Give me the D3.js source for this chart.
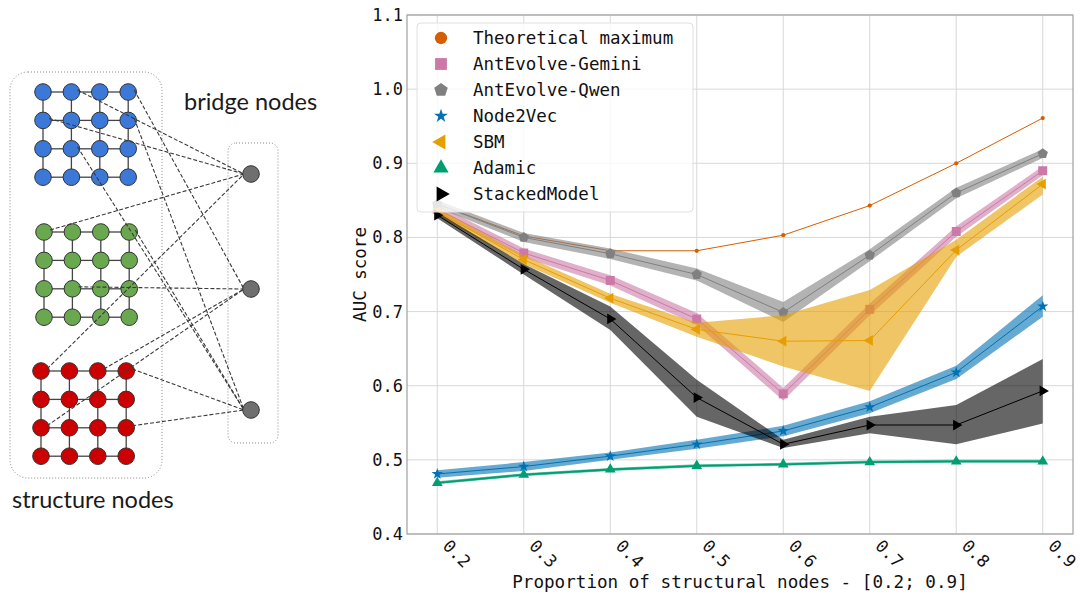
<!DOCTYPE html>
<html>
<head>
<meta charset="utf-8">
<script src="https://cdn.jsdelivr.net/npm/d3@7"></script>
<style>
  body { margin: 0; background: #fff; }
  svg { display: block; }
</style>
</head>
<body>
<div id="chart"></div>
<script>
// x values / tick labels
const proportions = [0.2, 0.3, 0.4, 0.5, 0.6, 0.7, 0.8, 0.9];
const xTickLabels = ["0.2", "0.3", "0.4", "0.5", "0.6", "0.7", "0.8", "0.9"];
const yTicks = [0.4, 0.5, 0.6, 0.7, 0.8, 0.9, 1.0, 1.1];

// series (mean + band low/high)
const theoreticalMax = [0.845, 0.802, 0.782, 0.782, 0.803, 0.843, 0.900, 0.961];

const geminiMean = [0.838, 0.779, 0.742, 0.690, 0.589, 0.703, 0.808, 0.890];
const geminiLow = [0.832, 0.773, 0.735, 0.682, 0.580, 0.695, 0.801, 0.884];
const geminiHigh = [0.844, 0.785, 0.749, 0.698, 0.597, 0.711, 0.815, 0.896];

const qwenMean = [0.845, 0.800, 0.778, 0.750, 0.699, 0.776, 0.860, 0.913];
const qwenLow = [0.840, 0.794, 0.771, 0.742, 0.686, 0.768, 0.853, 0.907];
const qwenHigh = [0.850, 0.806, 0.785, 0.758, 0.713, 0.784, 0.867, 0.919];

const node2vecMean = [0.481, 0.491, 0.505, 0.521, 0.539, 0.571, 0.618, 0.707];
const node2vecLow = [0.476, 0.485, 0.500, 0.515, 0.532, 0.563, 0.609, 0.693];
const node2vecHigh = [0.486, 0.497, 0.510, 0.527, 0.546, 0.579, 0.627, 0.722];

const sbmMean = [0.835, 0.770, 0.718, 0.676, 0.660, 0.661, 0.783, 0.872];
const sbmLow = [0.830, 0.764, 0.712, 0.666, 0.626, 0.593, 0.774, 0.858];
const sbmHigh = [0.840, 0.776, 0.724, 0.685, 0.695, 0.729, 0.797, 0.882];

const adamicMean = [0.469, 0.480, 0.487, 0.492, 0.494, 0.497, 0.498, 0.498];
const adamicLow = [0.467, 0.478, 0.485, 0.490, 0.492, 0.495, 0.496, 0.496];
const adamicHigh = [0.471, 0.482, 0.489, 0.494, 0.496, 0.499, 0.500, 0.500];

const stackedMean = [0.830, 0.757, 0.690, 0.584, 0.521, 0.547, 0.547, 0.593];
const stackedLow = [0.826, 0.750, 0.675, 0.558, 0.516, 0.536, 0.521, 0.549];
const stackedHigh = [0.834, 0.764, 0.707, 0.608, 0.527, 0.558, 0.574, 0.636];

const seriesNames = ["Theoretical maximum", "AntEvolve-Gemini", "AntEvolve-Qwen",
  "Node2Vec", "SBM", "Adamic", "StackedModel"];

const SERIES_COLORS = {
  "Theoretical maximum": "#d55e00",
  "AntEvolve-Gemini": "#cc79a7",
  "AntEvolve-Qwen": "#808080",
  "Node2Vec": "#0072b2",
  "SBM": "#e69f00",
  "Adamic": "#009e73",
  "StackedModel": "#000000",
};

const width = 1080;
const height = 594;
const MONO = "'DejaVu Sans Mono', monospace";

const svg = d3.select("#chart").append("svg")
  .attr("width", width)
  .attr("height", height);

// pentagon path for matplotlib "p" marker
const symbolPentagon = {
  draw(ctx, size) {
    const r = Math.sqrt(size / 2.378);
    for (let i = 0; i < 5; i++) {
      const a = -Math.PI / 2 + (i * 2 * Math.PI) / 5;
      const px = r * Math.cos(a), py = r * Math.sin(a);
      if (i === 0) ctx.moveTo(px, py); else ctx.lineTo(px, py);
    }
    ctx.closePath();
  },
};

const MARKERS = {
  "Theoretical maximum": { type: d3.symbolCircle, rot: 0, size: 14, legendSize: 120 },
  "AntEvolve-Gemini": { type: d3.symbolSquare, rot: 0, size: 80, legendSize: 140 },
  "AntEvolve-Qwen": { type: symbolPentagon, rot: 0, size: 70, legendSize: 120 },
  "Node2Vec": { type: d3.symbolStar, rot: 0, size: 40, legendSize: 60 },
  "SBM": { type: d3.symbolTriangle, rot: -90, size: 50, legendSize: 100 },
  "Adamic": { type: d3.symbolTriangle, rot: 0, size: 50, legendSize: 100 },
  "StackedModel": { type: d3.symbolTriangle, rot: 90, size: 50, legendSize: 100 },
};

/* ---------------- LEFT DIAGRAM ---------------- */
const diagram = svg.append("g");

const gridGroups = [
  { fill: "#3c78d8", x0: 43, y0: 92 },
  { fill: "#6aa84f", x0: 44, y0: 232 },
  { fill: "#cc0000", x0: 41, y0: 371 },
];
const step = 28.4;
const bridgeNodes = [{ x: 251, y: 174 }, { x: 251, y: 289 }, { x: 251, y: 410 }];

// [group, row, col, bridge]
const bridgeEdges = [
  [0, 0, 1, 0], [0, 1, 0, 0], [0, 0, 3, 1], [0, 1, 3, 2], [0, 2, 1, 2],
  [1, 0, 0, 0], [1, 0, 3, 2], [1, 2, 1, 1],
  [2, 0, 0, 0], [2, 0, 2, 1], [2, 2, 0, 1], [2, 0, 3, 2], [2, 2, 3, 2],
];

function nodePos(g, r, c) {
  const grp = gridGroups[g];
  return { x: grp.x0 + c * step, y: grp.y0 + r * step };
}

// dotted containers
diagram.append("rect")
  .attr("x", 10).attr("y", 72).attr("width", 152).attr("height", 406)
  .attr("rx", 18)
  .attr("fill", "none").attr("stroke", "#888")
  .attr("stroke-width", 1).attr("stroke-dasharray", "1,2");

diagram.append("rect")
  .attr("x", 228).attr("y", 143).attr("width", 50).attr("height", 300)
  .attr("rx", 8)
  .attr("fill", "none").attr("stroke", "#888")
  .attr("stroke-width", 1).attr("stroke-dasharray", "1,2");

// grid edges
gridGroups.forEach((grp, g) => {
  const eg = diagram.append("g").attr("stroke", "#444").attr("stroke-width", 1.3);
  for (let r = 0; r < 4; r++) {
    for (let c = 0; c < 4; c++) {
      const p = nodePos(g, r, c);
      if (c < 3) {
        const q = nodePos(g, r, c + 1);
        eg.append("line").attr("x1", p.x).attr("y1", p.y).attr("x2", q.x).attr("y2", q.y);
      }
      if (r < 3) {
        const q = nodePos(g, r + 1, c);
        eg.append("line").attr("x1", p.x).attr("y1", p.y).attr("x2", q.x).attr("y2", q.y);
      }
    }
  }
});

// grid nodes
gridGroups.forEach((grp, g) => {
  for (let r = 0; r < 4; r++) {
    for (let c = 0; c < 4; c++) {
      const p = nodePos(g, r, c);
      diagram.append("circle")
        .attr("cx", p.x).attr("cy", p.y).attr("r", 8.3)
        .attr("fill", grp.fill).attr("stroke", "#333").attr("stroke-width", 1);
    }
  }
});

// dashed bridge edges (drawn on top of nodes like the original)
bridgeEdges.forEach(([g, r, c, b]) => {
  const p = nodePos(g, r, c);
  const q = bridgeNodes[b];
  diagram.append("line")
    .attr("x1", p.x + 6).attr("y1", p.y - 2).attr("x2", q.x - 7).attr("y2", q.y)
    .attr("stroke", "#3a3a3a").attr("stroke-width", 1.1)
    .attr("stroke-dasharray", "4,2");
});

bridgeNodes.forEach((d) => {
  diagram.append("circle")
    .attr("cx", d.x).attr("cy", d.y).attr("r", 8.3)
    .attr("fill", "#6f6f6f").attr("stroke", "#333").attr("stroke-width", 1);
});

diagram.append("text")
  .attr("x", 184).attr("y", 110)
  .attr("font-family", "Lato, 'Open Sans', sans-serif")
  .attr("font-size", "23.5px").attr("fill", "#1a1a1a")
  .text("bridge nodes");

diagram.append("text")
  .attr("x", 12).attr("y", 508)
  .attr("font-family", "Lato, 'Open Sans', sans-serif")
  .attr("font-size", "23.5px").attr("fill", "#1a1a1a")
  .text("structure nodes");

/* ---------------- LINE CHART ---------------- */
const plot = { left: 407, right: 1073, top: 15, bottom: 534 };

const x = d3.scaleLinear().domain([0.165, 0.935]).range([plot.left, plot.right]);
const y = d3.scaleLinear().domain([0.4, 1.1]).range([plot.bottom, plot.top]);

// grid
const grid = svg.append("g").attr("stroke", "#d8d8d8").attr("stroke-width", 1);
grid.selectAll(".gx").data(proportions).enter().append("line")
  .attr("x1", (d) => x(d)).attr("x2", (d) => x(d))
  .attr("y1", plot.top).attr("y2", plot.bottom);
grid.selectAll(".gy").data(yTicks).enter().append("line")
  .attr("x1", plot.left).attr("x2", plot.right)
  .attr("y1", (d) => y(d)).attr("y2", (d) => y(d));

// spines
svg.append("rect")
  .attr("x", plot.left).attr("y", plot.top)
  .attr("width", plot.right - plot.left).attr("height", plot.bottom - plot.top)
  .attr("fill", "none").attr("stroke", "#a0a0a0").attr("stroke-width", 1.2);

// axes (ticks hidden, labels only)
const yAxis = svg.append("g")
  .attr("transform", `translate(${plot.left},0)`)
  .call(d3.axisLeft(y).tickValues(yTicks).tickFormat(d3.format(".1f")).tickSize(0).tickPadding(4));
yAxis.select(".domain").remove();
yAxis.selectAll("text")
  .attr("font-family", MONO).attr("font-size", "17px").attr("fill", "#111");

const xAxis = svg.append("g")
  .attr("transform", `translate(0,${plot.bottom})`)
  .call(d3.axisBottom(x).tickValues(proportions).tickFormat((d, i) => xTickLabels[i]).tickSize(0));
xAxis.select(".domain").remove();
xAxis.selectAll("text")
  .attr("font-family", MONO).attr("font-size", "17px").attr("fill", "#111")
  .attr("text-anchor", "start")
  .attr("dy", null)
  .attr("y", 0)
  .attr("transform", "translate(4,13) rotate(45)");

svg.append("text")
  .attr("transform", `translate(366,${(plot.top + plot.bottom) / 2}) rotate(-90)`)
  .attr("text-anchor", "middle")
  .attr("font-family", MONO).attr("font-size", "17.5px").attr("fill", "#111")
  .text("AUC score");

svg.append("text")
  .attr("x", 740).attr("y", 588)
  .attr("text-anchor", "middle")
  .attr("font-family", MONO).attr("font-size", "17.6px").attr("fill", "#111")
  .text("Proportion of structural nodes - [0.2; 0.9]");

// series definitions
const series = [
  { name: "Theoretical maximum", mean: theoreticalMax, low: null, high: null, lw: 1 },
  { name: "AntEvolve-Gemini", mean: geminiMean, low: geminiLow, high: geminiHigh, lw: 1 },
  { name: "AntEvolve-Qwen", mean: qwenMean, low: qwenLow, high: qwenHigh, lw: 1 },
  { name: "Node2Vec", mean: node2vecMean, low: node2vecLow, high: node2vecHigh, lw: 1 },
  { name: "SBM", mean: sbmMean, low: sbmLow, high: sbmHigh, lw: 1 },
  { name: "Adamic", mean: adamicMean, low: adamicLow, high: adamicHigh, lw: 1.8 },
  { name: "StackedModel", mean: stackedMean, low: stackedLow, high: stackedHigh, lw: 1 },
];

const area = d3.area()
  .x((d) => x(d.x))
  .y0((d) => y(d.lo))
  .y1((d) => y(d.hi));

const line = d3.line()
  .x((d) => x(d.x))
  .y((d) => y(d.v));

const chartG = svg.append("g");

series.forEach((s) => {
  const color = SERIES_COLORS[s.name];
  const mk = MARKERS[s.name];
  const g = chartG.append("g");

  if (s.low) {
    const bandData = proportions.map((p, i) => ({ x: p, lo: s.low[i], hi: s.high[i] }));
    g.append("path")
      .datum(bandData)
      .attr("d", area)
      .attr("fill", color)
      .attr("fill-opacity", 0.6);
  }

  const pts = proportions.map((p, i) => ({ x: p, v: s.mean[i] }));
  g.append("path")
    .datum(pts)
    .attr("d", line)
    .attr("fill", "none")
    .attr("stroke", color)
    .attr("stroke-width", s.lw);

  g.selectAll("path.mk")
    .data(pts)
    .enter()
    .append("path")
    .attr("class", "mk")
    .attr("d", d3.symbol().type(mk.type).size(mk.size))
    .attr("transform", (d) => `translate(${x(d.x)},${y(d.v)}) rotate(${mk.rot})`)
    .attr("fill", color);
});

// LEGEND
const legend = svg.append("g");
legend.append("rect")
  .attr("x", 417).attr("y", 23)
  .attr("width", 276).attr("height", 189)
  .attr("rx", 4)
  .attr("fill", "#fff").attr("fill-opacity", 0.8)
  .attr("stroke", "#e0e0e0").attr("stroke-width", 1);

legend.selectAll("g")
  .data(seriesNames)
  .enter()
  .append("g")
  .attr("transform", (d, i) => `translate(0, ${38 + i * 26})`)
  .each(function (d) {
    const g = d3.select(this);
    const mk = MARKERS[d];
    g.append("path")
      .attr("d", d3.symbol().type(mk.type).size(mk.legendSize))
      .attr("transform", `translate(441,0) rotate(${mk.rot})`)
      .attr("fill", SERIES_COLORS[d]);
    g.append("text")
      .attr("x", 473)
      .attr("y", 6)
      .attr("font-family", MONO)
      .attr("font-size", "17.5px")
      .attr("fill", "#111")
      .text(d);
  });
</script>
</body>
</html>
